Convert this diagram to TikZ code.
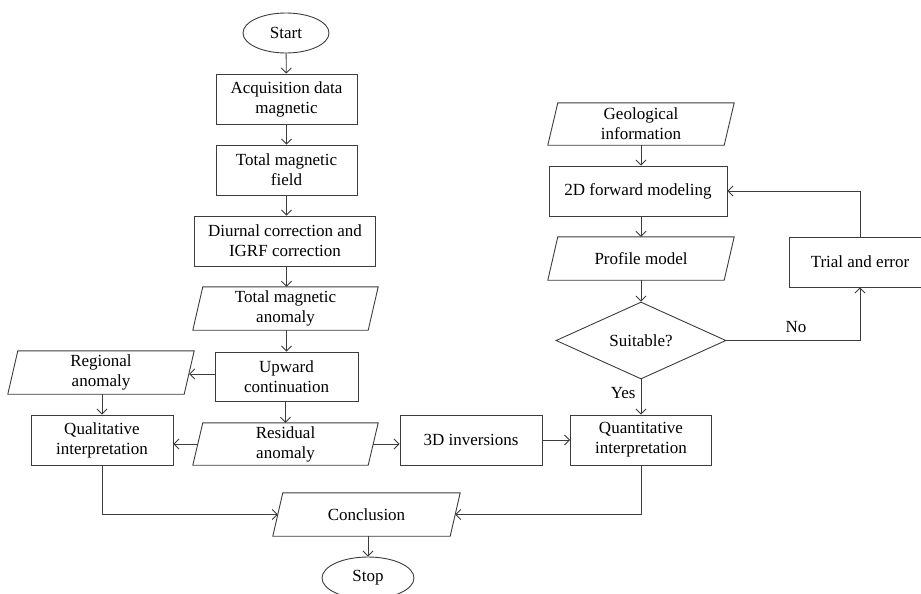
\documentclass[tikz,border=0pt]{standalone}
\usepackage{fontspec}
\setmainfont{Liberation Serif}
\usetikzlibrary{shapes.geometric,arrows.meta}
\definecolor{ln}{HTML}{3C3C3C}
\newcommand\iodraw[1]{\draw[draw=ln,line width=0.9pt] ([xshift=5pt]#1.north west) -- ([xshift=5pt]#1.north east) -- ([xshift=-5pt]#1.south east) -- ([xshift=-5pt]#1.south west) -- cycle;}
\begin{document}
\begin{tikzpicture}[x=1pt,y=-1pt,
  every node/.style={font=\fontsize{17}{20}\selectfont, align=center, inner sep=0pt},
  box/.style={draw=ln, line width=0.9pt, minimum height=50pt},
  io/.style={minimum height=43pt},
  term/.style={draw=ln, line width=0.9pt, ellipse},
  dec/.style={draw=ln, line width=0.9pt, diamond, aspect=2.2, minimum width=170pt, minimum height=77pt},
  conn/.style={draw=ln, line width=0.9pt, -{Straight Barb[length=5pt,width=10pt]}},
  plain/.style={draw=ln, line width=0.9pt}
]
\useasboundingbox (0,0) rectangle (921,594);
% left / main column
\node[term, minimum width=86pt, minimum height=40pt] (start) at (286,33) {Start};
\node[box, minimum width=141pt] (acq) at (286.5,99) {Acquisition data\\magnetic};
\node[box, minimum width=141pt] (tmf) at (286.5,170) {Total magnetic\\field};
\node[box, minimum width=181pt] (diu) at (285,241) {Diurnal correction and\\IGRF correction};
\node[io, minimum width=175pt] (tma) at (285.5,308.5) {Total magnetic\\anomaly};
\iodraw{tma}
\node[box, minimum width=143pt, minimum height=49pt] (up) at (286.5,376.5) {Upward\\continuation};
\node[io, minimum width=176pt] (reg) at (101,372.5) {Regional\\anomaly};
\iodraw{reg}
\node[box, minimum width=142pt] (qual) at (102,440) {Qualitative\\interpretation};
\node[io, minimum width=175pt, minimum height=42pt] (res) at (285.5,444) {Residual\\anomaly};
\iodraw{res}
\node[box, minimum width=142pt] (inv) at (471,440) {3D inversions};
\node[box, minimum width=141pt] (quan) at (641,440) {Quantitative\\interpretation};
\node[io, minimum width=177pt] (conc) at (366.5,514.5) {Conclusion};
\iodraw{conc}
\node[term, minimum width=92pt, minimum height=42pt] (stop) at (368,578) {Stop};
% right column
\node[io, minimum width=176pt, minimum height=42pt] (geo) at (641,124) {Geological\\information};
\iodraw{geo}
\node[box, minimum width=178pt] (fwd) at (638,191) {2D forward modeling};
\node[io, minimum width=176pt] (prof) at (641,258.5) {Profile model};
\iodraw{prof}
\node[dec] (suit) at (641,340.5) {Suitable?};
\node[box, minimum width=142pt] (trial) at (860,262) {Trial and error};
% connectors
\draw[conn] (start) -- (acq);
\draw[conn] (acq) -- (tmf);
\draw[conn] (tmf.south) -- (tmf.south |- diu.north);
\draw[conn] (diu.south -| tmf.south) -- (tmf.south |- tma.north);
\draw[conn] (tma.south -| up.north) -- (up.north);
\draw[conn] (up.west |- 0,374) -- (reg.east |- 0,374);
\draw[conn] (up.south -| res.north) -- (res.north);
\draw[conn] (reg.south -| qual.north) -- (qual.north);
\draw[conn] (res.west) -- (res.west -| qual.east);
\draw[conn] (res.east) -- (inv.west |- res.east);
\draw[conn] (inv.east) -- (quan.west);
\draw[conn] (qual.south) |- (conc.west);
\draw[conn] (quan.south) |- (conc.east);
\draw[conn] (conc.south -| stop.north) -- (stop.north);
\draw[conn] (geo.south) -- (geo.south |- fwd.north);
\draw[conn] (fwd.south -| prof.north) -- (prof.north);
\draw[conn] (prof.south) -- (suit.north);
\draw[conn] (suit.south) -- node[left=5pt, pos=0.4] (yes) {Yes} (quan.north);
\draw[conn] (suit.east) -| node[above=7pt, pos=0.26] (no) {No} (trial.south);
\draw[conn] (trial.north) |- (fwd.east);
\end{tikzpicture}
\end{document}
